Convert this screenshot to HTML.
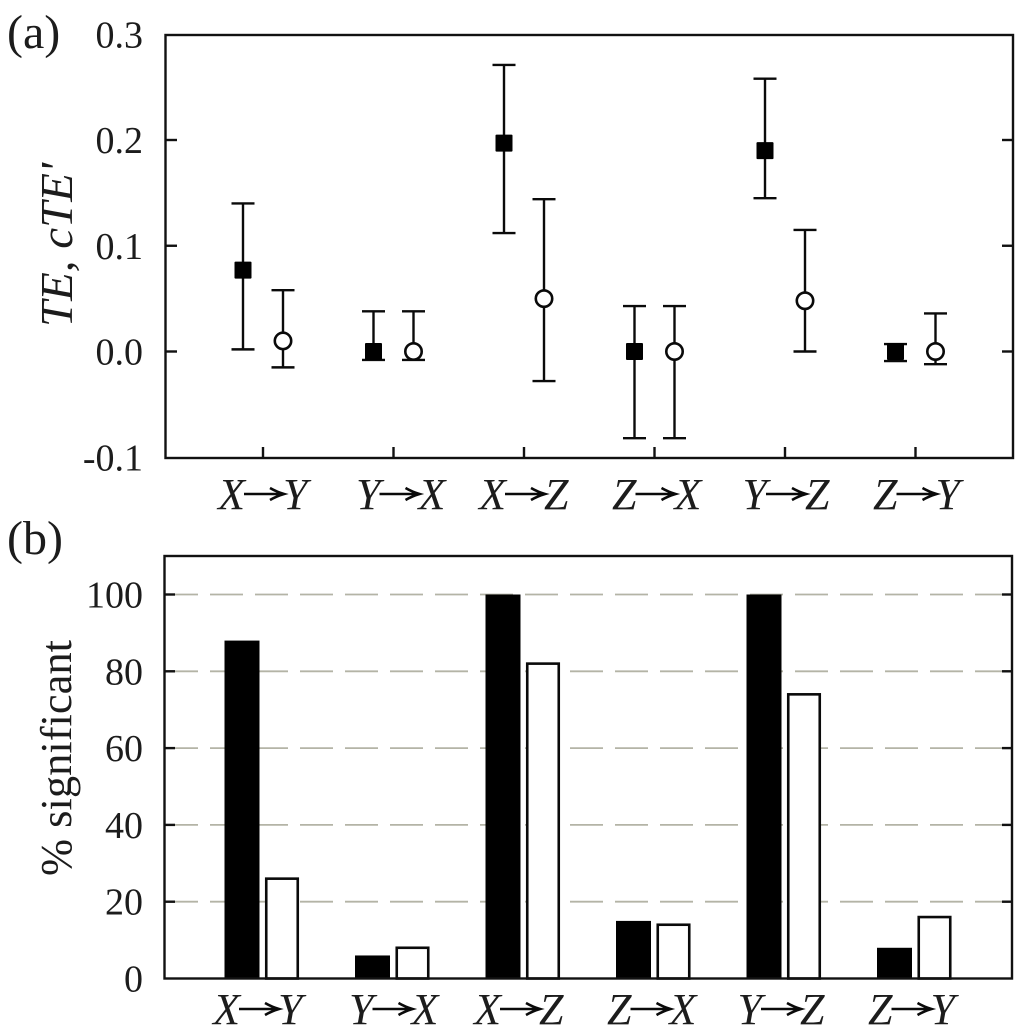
<!DOCTYPE html>
<html lang="en">
<head>
<meta charset="utf-8">
<title>TE and significance chart</title>
<style>
html,body{margin:0;padding:0;background:#fff;}
svg{display:block;filter:blur(0.35px);}
text{font-family:"Liberation Serif",serif;fill:#1c1c1c;}
.it{font-style:italic;}
</style>
</head>
<body>
<svg id="chart" xmlns="http://www.w3.org/2000/svg" width="1024" height="1034" viewBox="0 0 1024 1034">
  <rect x="0" y="0" width="1024" height="1034" fill="#fff"/>
  <text x="7" y="48" font-size="48">(a)</text>
  <text x="7" y="554" font-size="48">(b)</text>
  <text class="it" transform="translate(72,327) rotate(-90)" font-size="46" textLength="164" lengthAdjust="spacingAndGlyphs">TE, cTE'</text>
  <text transform="translate(71,876) rotate(-90)" font-size="44" textLength="236" lengthAdjust="spacingAndGlyphs">% significant</text>
  <g id="grid"></g>
  <g id="marks"></g>
  <g id="axes"></g>
</svg>
<script>
// Shared categories (source, target)
const sources = ['X', 'Y', 'X', 'Z', 'Y', 'Z'];
const targets = ['Y', 'X', 'Z', 'X', 'Z', 'Y'];

// Panel (a): TE and cTE' with error bars
const teValues = [0.077, 0, 0.197, 0, 0.19, 0];
const teUpper = [0.14, 0.038, 0.271, 0.043, 0.258, 0.007];
const teLower = [0.002, -0.008, 0.112, -0.082, 0.145, -0.009];
const cteValues = [0.01, 0, 0.05, 0, 0.048, 0];
const cteUpper = [0.058, 0.038, 0.144, 0.043, 0.115, 0.036];
const cteLower = [-0.015, -0.008, -0.028, -0.082, 0, -0.012];
const teTicks = [-0.1, 0, 0.1, 0.2, 0.3];
const teTickLabels = ['-0.1', '0.0', '0.1', '0.2', '0.3'];

// Panel (b): percent significant
const sigFilled = [88, 6, 100, 15, 100, 8];
const sigOpen = [26, 8, 82, 14, 74, 16];
const sigTicks = [0, 20, 40, 60, 80, 100];
const sigTickLabels = ['0', '20', '40', '60', '80', '100'];

const NS = 'http://www.w3.org/2000/svg';
const gridLayer = document.getElementById('grid');
const marksLayer = document.getElementById('marks');
const axesLayer = document.getElementById('axes');

function make(parent, tag, attrs, text) {
  const el = document.createElementNS(NS, tag);
  for (const k in attrs) el.setAttribute(k, attrs[k]);
  if (text !== undefined) el.textContent = text;
  parent.appendChild(el);
  return el;
}

const INK = '#0a0a0a';
const aY = v => 351.5 - v * 1057.5;
const aX = i => 263 + 130.5 * i;
const bY = v => 978.5 - v * 3.84;
const bX = i => 262 + 130.5 * i;

// Panel (a) series
function drawErrorBar(cx, value, upper, lower, open, idx) {
  const g = make(marksLayer, 'g', {});
  
  
  make(g, 'line', {x1: cx, x2: cx, y1: aY(upper), y2: aY(lower), stroke: INK, 'stroke-width': 2.4});
  make(g, 'line', {x1: cx - 11.5, x2: cx + 11.5, y1: aY(upper), y2: aY(upper), stroke: INK, 'stroke-width': 2.4});
  make(g, 'line', {x1: cx - 11.5, x2: cx + 11.5, y1: aY(lower), y2: aY(lower), stroke: INK, 'stroke-width': 2.4});
  if (open) {
    make(g, 'circle', {cx: cx, cy: aY(value), r: 8.2, fill: '#fff', stroke: INK, 'stroke-width': 2.6});
  } else {
    make(g, 'rect', {x: cx - 8.5, y: aY(value) - 8.5, width: 17, height: 17, rx: 1, fill: '#000'});
  }
}
teValues.forEach((v, i) => {
  drawErrorBar(aX(i) - 20, v, teUpper[i], teLower[i], false, i);
  drawErrorBar(aX(i) + 20, cteValues[i], cteUpper[i], cteLower[i], true, i);
});

// Panel (b) gridlines
sigTicks.filter(t => t > 0).forEach(t => {
  const line = make(gridLayer, 'line', {x1: 165, x2: 1012, y1: bY(t), y2: bY(t), stroke: '#b4b4a6', 'stroke-width': 1.8, 'stroke-dasharray': '33 12'});
  
  
});

// Panel (b) bars
function drawBar(cx, value, open, idx) {
  const w = open ? 31.5 : 35;
  const top = bY(value);
  const bar = make(marksLayer, 'rect', {
    x: cx - w / 2, y: top, width: w, height: bY(0) - top,
    fill: open ? '#fff' : '#000', stroke: open ? INK : 'none', 'stroke-width': open ? 2.6 : 0
  });
  
  
}
sigFilled.forEach((v, i) => {
  drawBar(bX(i) - 20, v, false, i);
  drawBar(bX(i) + 20, sigOpen[i], true, i);
});

// Frames
const frameA = make(axesLayer, 'rect', {x: 165.5, y: 35, width: 847.5, height: 423, fill: 'none', stroke: '#111', 'stroke-width': 2.4});


const frameB = make(axesLayer, 'rect', {x: 164.5, y: 556, width: 847.5, height: 422.5, fill: 'none', stroke: '#111', 'stroke-width': 2.4});



// Panel (a) y ticks
teTicks.forEach((t, i) => {
  const y = aY(t);
  if (t > -0.1 && t < 0.3) {
    make(axesLayer, 'line', {x1: 165.5, x2: 177, y1: y, y2: y, stroke: '#111', 'stroke-width': 2.4});
    make(axesLayer, 'line', {x1: 1002, x2: 1013, y1: y, y2: y, stroke: '#111', 'stroke-width': 2.4});
  }
  const label = make(axesLayer, 'text', {x: 143, y: y + 13, 'font-size': 38, 'text-anchor': 'end'}, teTickLabels[i]);
  
  
});

// Panel (b) y ticks
sigTicks.forEach((t, i) => {
  const y = bY(t);
  if (t > 0) {
    make(axesLayer, 'line', {x1: 164.5, x2: 175, y1: y, y2: y, stroke: '#111', 'stroke-width': 2.4});
    make(axesLayer, 'line', {x1: 1002, x2: 1012, y1: y, y2: y, stroke: '#111', 'stroke-width': 2.4});
  }
  const label = make(axesLayer, 'text', {x: 143, y: y + 13, 'font-size': 38, 'text-anchor': 'end'}, sigTickLabels[i]);
  
  
});

// Category labels: source, drawn arrow, target
function drawCategory(cx, baseline, idx, panel) {
  const g = make(axesLayer, 'g', {});
  
  
  make(g, 'text', {x: cx - 19, y: baseline, 'font-size': 44, 'text-anchor': 'end', class: 'it'}, sources[idx]);
  make(g, 'text', {x: cx + 19, y: baseline, 'font-size': 44, 'text-anchor': 'start', class: 'it'}, targets[idx]);
  const ay = baseline - 15;
  make(g, 'path', {d: 'M' + (cx - 20) + ' ' + ay + 'H' + (cx + 19) + 'M' + (cx + 6) + ' ' + (ay - 6) + 'Q' + (cx + 13) + ' ' + (ay - 2) + ' ' + (cx + 20) + ' ' + ay + 'Q' + (cx + 13) + ' ' + (ay + 2) + ' ' + (cx + 6) + ' ' + (ay + 6), fill: 'none', stroke: '#0a0a0a', 'stroke-width': 2.6});
}
sources.forEach((s, i) => {
  const tick = make(axesLayer, 'line', {x1: aX(i), x2: aX(i), y1: 447, y2: 458, stroke: '#111', 'stroke-width': 2.4});
  
  
  const wide = sources[i] === 'Y' && targets[i] === 'X';
  drawCategory(aX(i) + (wide ? 6 : 1), 509, i, 'panel-a');
  drawCategory(bX(i) + (wide ? 0 : -3), 1024, i, 'panel-b');
});
</script>
</body>
</html>
